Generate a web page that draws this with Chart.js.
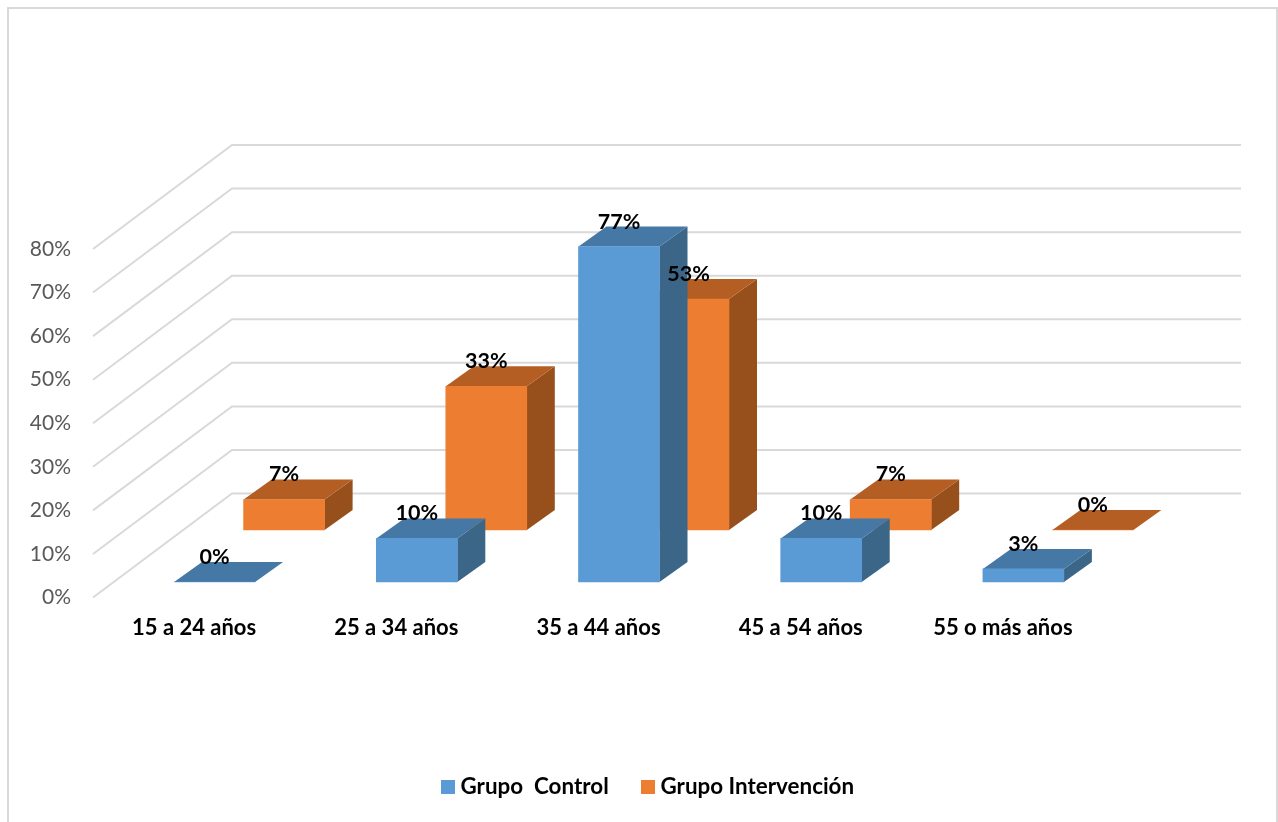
<!DOCTYPE html>
<html lang="es">
<head>
<meta charset="utf-8">
<title>Grupos de edad</title>
<script src="https://cdn.jsdelivr.net/npm/chart.js@4"></script>
<style>
  html,body{margin:0;padding:0;background:#fff;overflow:hidden}
  canvas{display:block}
</style>
</head>
<body>
<canvas id="edad" width="1278" height="822"></canvas>
<script>
const categories=["15 a 24 años","25 a 34 años","35 a 44 años","45 a 54 años","55 o más años"];
const grupoControl=[0,10,77,10,3];
const grupoIntervencion=[7,33,53,7,0];
const yTicksMax=80;

const INK="#000";
const MUT="#595959";
const GRID="#d9d9d9";
const LABEL_FONT="bold 22.4px Lato, sans-serif";
const VALUE_FONT="bold 21.5px Lato, sans-serif";

// floor depth of the side wall, and of each bar box
const WALL={dx:139,dy:-104,endDx:137};
const BOX={dx:28,dy:-20};

// per series: where it sits on the floor, and its three face colours
const SHADES=[
  {dx:20.5,dy:-15.5,front:"#5b9bd5",top:"#4678a6",side:"#3b6688"},
  {dx:90,dy:-67.5,front:"#ed7d31",top:"#b55e24",side:"#974f1c"}
];

function poly(ctx,fill,pts){
  ctx.fillStyle=fill;
  ctx.beginPath();
  pts.forEach((p,i)=>i?ctx.lineTo(p[0],p[1]):ctx.moveTo(p[0],p[1]));
  ctx.closePath();
  ctx.fill();
}

/* ===== Frame, side wall + back wall ===== */
const wallsPlugin={
  id:"walls",
  beforeDraw(chart){
    const {ctx}=chart;
    ctx.save();
    ctx.strokeStyle=GRID; ctx.lineWidth=2;
    ctx.beginPath();
    ctx.moveTo(8,830); ctx.lineTo(8,8); ctx.lineTo(1277,8); ctx.lineTo(1277,830);
    ctx.stroke();
    ctx.restore();
  },
  beforeDatasetsDraw(chart){
    const {ctx,chartArea:a,scales:{y}}=chart;
    ctx.save();
    ctx.strokeStyle=GRID; ctx.lineWidth=2; ctx.lineJoin="miter";
    y.ticks.forEach(t=>{
      const py=y.getPixelForValue(t.value);
      ctx.beginPath();
      ctx.moveTo(a.left,py);
      ctx.lineTo(a.left+WALL.dx,py+WALL.dy);
      ctx.lineTo(a.right+WALL.endDx,py+WALL.dy);
      ctx.stroke();
    });
    ctx.restore();
  }
};

/* ===== Bar boxes: library draws the front face, we add side + top ===== */
const boxesPlugin={
  id:"boxes",
  beforeDatasetDraw(chart,args){
    const {ctx}=chart;
    const s=SHADES[args.index];
    ctx.save();
    ctx.translate(s.dx,s.dy);
    args.meta.data.forEach(el=>{
      const l=el.x-el.width/2, r=el.x+el.width/2;
      poly(ctx,s.side,[[r,el.y],[r+BOX.dx,el.y+BOX.dy],[r+BOX.dx,el.base+BOX.dy],[r,el.base]]);
      poly(ctx,s.top,[[l,el.y],[l+BOX.dx,el.y+BOX.dy],[r+BOX.dx,el.y+BOX.dy],[r,el.y]]);
    });
  },
  afterDatasetDraw(chart){
    chart.ctx.restore();
  },
  afterDatasetsDraw(chart){
    const {ctx}=chart;
    ctx.save();
    ctx.font=VALUE_FONT; ctx.fillStyle=INK;
    ctx.textAlign="center"; ctx.textBaseline="middle";
    chart.data.datasets.forEach((d,i)=>{
      const s=SHADES[i];
      chart.getDatasetMeta(i).data.forEach((el,j)=>{
        ctx.fillText(d.data[j]+"%",el.x+s.dx,el.y+s.dy-25);
      });
    });
    ctx.restore();
  }
};

/* ===== Legend (tighter box-to-text gap than the built-in one) ===== */
const keyPlugin={
  id:"key",
  afterDraw(chart){
    const {ctx}=chart;
    const xs=[441,641];
    ctx.save();
    ctx.font=LABEL_FONT; ctx.textBaseline="middle"; ctx.textAlign="left";
    chart.data.datasets.forEach((d,i)=>{
      ctx.fillStyle=SHADES[i].front;
      ctx.fillRect(xs[i],780,14,14);
      ctx.fillStyle=INK;
      ctx.fillText(d.label,xs[i]+19.5,787);
    });
    ctx.restore();
  }
};

new Chart(document.getElementById("edad").getContext("2d"),{
  type:"bar",
  data:{
    labels:categories,
    datasets:[
      {label:"Grupo  Control",data:grupoControl,backgroundColor:SHADES[0].front},
      {label:"Grupo Intervención",data:grupoIntervencion,backgroundColor:SHADES[1].front}
    ]
  },
  options:{
    responsive:false,
    animation:false,
    events:[],
    grouped:false,
    barThickness:81,
    clip:false,
    layout:{padding:{top:249,right:174,left:0,bottom:0}},
    plugins:{legend:{display:false},tooltip:{enabled:false},title:{display:false}},
    scales:{
      x:{
        offset:true,
        grid:{display:false},
        border:{display:false},
        ticks:{color:INK,padding:9,maxRotation:0,font:{family:"Lato, sans-serif",size:22,weight:"bold"}},
        afterFit(s){ s.height=224.5; }
      },
      y:{
        min:0,max:yTicksMax,
        grid:{display:false},
        border:{display:false},
        ticks:{stepSize:10,color:MUT,padding:14,font:{family:"Lato, sans-serif",size:21},callback:v=>v+"%"},
        afterFit(s){ s.width=93; }
      }
    }
  },
  plugins:[wallsPlugin,boxesPlugin,keyPlugin]
});
</script>
</body>
</html>
